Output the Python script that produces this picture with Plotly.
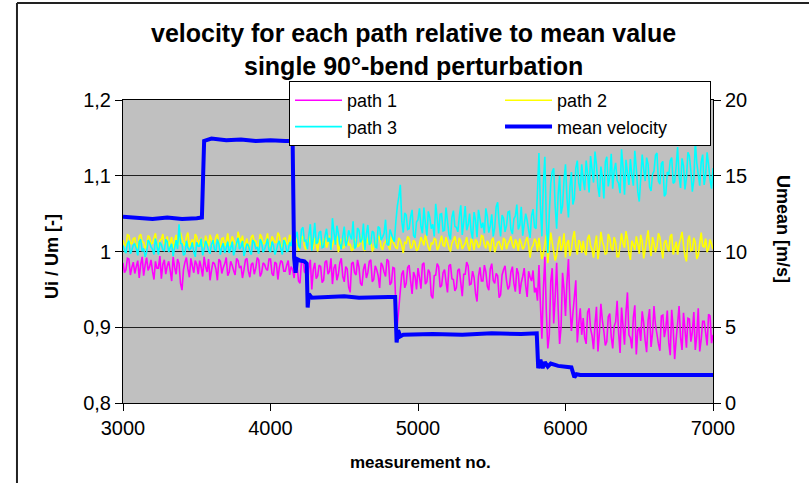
import plotly.graph_objects as go

# ---------------- data ----------------
measurement_no = list(range(3000, 7001, 10))  # 401 samples

path_1 = [
    # 3000 - 4150
    0.985, 0.972, 0.976, 0.991, 0.990, 0.969, 0.979, 0.986, 0.971, 0.980,
    0.988, 0.965, 0.983, 0.993, 0.968, 0.982, 0.992, 0.975, 0.980, 0.989,
    0.974, 0.963, 0.987, 0.978, 0.978, 0.994, 0.964, 0.983, 0.989, 0.970,
    0.981, 0.987, 0.975, 0.961, 0.993, 0.979, 0.970, 0.990, 0.984, 0.958,
    0.949, 0.976, 0.986, 0.992, 0.977, 0.966, 0.991, 0.981, 0.972, 0.988,
    0.983, 0.970, 0.988, 0.979, 0.967, 0.993, 0.980, 0.973, 0.990, 0.962,
    0.975, 0.986, 0.984, 0.977, 0.962, 0.990, 0.987, 0.971, 0.979, 0.984,
    0.992, 0.968, 0.973, 0.987, 0.982, 0.975, 0.969, 0.991, 0.988, 0.978,
    0.981, 0.965, 0.976, 0.989, 0.991, 0.974, 0.966, 0.983, 0.985, 0.970,
    0.978, 0.992, 0.989, 0.967, 0.972, 0.985, 0.983, 0.977, 0.975, 0.990,
    0.990, 0.971, 0.968, 0.986, 0.984, 0.963, 0.979, 0.988, 0.986, 0.974,
    0.974, 0.982, 0.988, 0.969, 0.980, 0.976,
    # 4160 - 4850
    0.965, 0.984, 0.982, 0.961, 0.958, 0.987, 0.990, 0.973, 0.971, 0.956,
    0.978, 0.989, 0.950, 0.976, 0.985, 0.964, 0.968, 0.982, 0.980, 0.959,
    0.962, 0.986, 0.988, 0.970, 0.974, 0.991, 0.957, 0.978, 0.983, 0.962,
    0.970, 0.985, 0.991, 0.967, 0.960, 0.980, 0.977, 0.953, 0.946, 0.984,
    0.986, 0.972, 0.969, 0.989, 0.979, 0.958, 0.955, 0.976, 0.984, 0.965,
    0.972, 0.987, 0.989, 0.960, 0.963, 0.981, 0.976, 0.968, 0.952, 0.985,
    0.981, 0.973, 0.967, 0.990, 0.987, 0.956, 0.959, 0.979, 0.978, 0.930,
    # 4860 - 5810
    0.903, 0.925, 0.948, 0.970, 0.975, 0.952, 0.958, 0.979, 0.982, 0.961,
    0.944, 0.973, 0.967, 0.950, 0.978, 0.966, 0.951, 0.983, 0.985, 0.957,
    0.960, 0.976, 0.972, 0.942, 0.938, 0.968, 0.969, 0.984, 0.980, 0.953,
    0.955, 0.972, 0.976, 0.960, 0.946, 0.981, 0.983, 0.964, 0.963, 0.948,
    0.952, 0.975, 0.977, 0.959, 0.941, 0.970, 0.970, 0.986, 0.981, 0.956,
    0.957, 0.974, 0.966, 0.945, 0.934, 0.967, 0.979, 0.961, 0.961, 0.982,
    0.973, 0.954, 0.949, 0.977, 0.984, 0.962, 0.958, 0.971, 0.968, 0.939,
    0.943, 0.969, 0.976, 0.981, 0.962, 0.950, 0.954, 0.973, 0.980, 0.958,
    0.947, 0.978, 0.971, 0.944, 0.959, 0.967, 0.978, 0.955, 0.940, 0.974,
    0.966, 0.961, 0.975, 0.946, 0.952, 0.935,
    # 5820 - 6110
    0.982, 0.930, 0.885, 0.950, 0.993, 0.920, 0.872, 0.890, 0.960, 0.978,
    0.905, 0.940, 0.985, 0.925, 0.878, 0.900, 0.972, 0.950, 0.915, 0.960,
    0.990, 0.930, 0.895, 0.918, 0.940, 0.962, 0.880, 0.905, 0.925, 0.890,
    # 6120 - 7000
    0.912, 0.886, 0.878, 0.920, 0.925, 0.898, 0.889, 0.871, 0.904, 0.927,
    0.868, 0.893, 0.931, 0.909, 0.895, 0.876, 0.881, 0.914, 0.918, 0.888,
    0.872, 0.901, 0.907, 0.935, 0.893, 0.866, 0.926, 0.902, 0.877, 0.919,
    0.946, 0.890, 0.886, 0.872, 0.913, 0.929, 0.864, 0.896, 0.900, 0.882,
    0.921, 0.906, 0.883, 0.867, 0.909, 0.924, 0.874, 0.892, 0.928, 0.903,
    0.891, 0.878, 0.869, 0.915, 0.916, 0.887, 0.898, 0.922, 0.880, 0.863,
    0.923, 0.899, 0.858, 0.884, 0.905, 0.928, 0.887, 0.870, 0.919, 0.897,
    0.873, 0.912, 0.911, 0.881, 0.894, 0.920, 0.870, 0.889, 0.925, 0.868,
    0.884, 0.908, 0.908, 0.893, 0.876, 0.917, 0.915, 0.879, 0.890,
]

path_2 = [
    # 3000 - 4150
    1.015, 1.009, 1.007, 1.022, 1.021, 1.011, 1.010, 1.017, 1.018, 1.006,
    1.005, 1.020, 1.023, 1.013, 1.012, 1.004, 1.008, 1.021, 1.019, 1.010,
    1.011, 1.018, 1.024, 1.007, 1.006, 1.015, 1.016, 1.023, 1.009, 1.012,
    1.020, 1.005, 1.013, 1.019, 1.004, 1.014, 1.022, 1.008, 1.010, 1.025,
    1.017, 1.011, 1.008, 1.020, 1.025, 1.006, 1.012, 1.016, 1.006, 1.023,
    1.019, 1.009, 1.014, 1.018, 1.009, 1.005, 1.021, 1.013, 1.007, 1.022,
    1.016, 1.008, 1.011, 1.019, 1.023, 1.012, 1.005, 1.017, 1.018, 1.007,
    1.013, 1.024, 1.008, 1.010, 1.020, 1.015, 1.010, 1.006, 1.026, 1.018,
    1.012, 1.021, 1.006, 1.011, 1.017, 1.004, 1.009, 1.019, 1.022, 1.013,
    1.014, 1.008, 1.007, 1.023, 1.019, 1.010, 1.011, 1.016, 1.024, 1.006,
    1.008, 1.020, 1.016, 1.012, 1.012, 1.025, 1.021, 1.007, 1.006, 1.017,
    1.018, 1.010, 1.010, 1.022, 1.015, 1.008,
    # 4160 - 5810
    1.004, 1.012, 1.016, 1.001, 1.009, 1.018, 1.020, 1.007, 1.002, 1.014,
    1.013, 1.021, 1.007, 1.003, 1.018, 1.010, 1.000, 1.016, 1.011, 1.005,
    1.015, 1.019, 1.005, 1.011, 1.021, 1.002, 1.008, 1.015, 1.012, 1.020,
    0.999, 1.009, 1.017, 1.004, 1.006, 1.013, 1.019, 1.008, 1.010, 1.001,
    1.003, 1.017, 1.014, 1.006, 1.008, 1.012, 1.022, 1.003, 1.001, 1.019,
    1.012, 1.009, 1.016, 1.000, 1.005, 1.014, 1.010, 1.021, 1.018, 1.006,
    1.002, 1.011, 1.013, 1.017, 1.007, 1.002, 1.020, 1.013, 1.009, 1.005,
    1.004, 1.018, 1.015, 1.008, 0.998, 1.012, 1.011, 1.020, 1.017, 1.004,
    1.006, 1.015, 1.012, 1.001, 1.003, 1.010, 1.019, 1.014, 1.008, 1.022,
    1.014, 1.005, 1.001, 1.011, 1.010, 1.017, 1.016, 1.002, 1.005, 1.013,
    1.021, 1.008, 1.007, 1.019, 1.012, 1.004, 1.000, 1.011, 1.015, 1.020,
    1.009, 1.003, 1.018, 1.014, 1.003, 1.007, 1.011, 1.019, 1.006, 1.001,
    1.017, 1.012, 1.002, 1.016, 1.013, 1.005, 1.008, 1.021, 1.020, 1.009,
    1.004, 1.014, 1.010, 1.000, 1.015, 1.018, 0.999, 1.006, 1.012, 1.013,
    1.007, 1.002, 1.018, 1.015, 1.003, 1.010, 1.014, 1.020, 1.009, 1.004,
    1.016, 1.011, 1.001, 1.017, 1.011, 1.003, 1.006, 1.014, 1.019, 1.008,
    0.992, 1.005, 1.008, 1.017, 1.013, 1.000,
    # 5820 - 6110
    1.018, 1.002, 0.990, 0.998, 1.010, 1.022, 0.985, 1.005, 1.025, 1.012,
    1.000, 0.988, 0.995, 1.010, 1.020, 1.001, 1.008, 1.024, 0.992, 1.011,
    1.015, 0.994, 1.003, 1.018, 1.027, 1.006, 0.996, 1.015, 1.012, 0.998,
    # 6120 - 7000
    1.014, 1.000, 0.995, 1.017, 1.022, 1.008, 1.003, 0.992, 1.010, 1.021,
    0.990, 1.004, 1.026, 1.013, 1.007, 0.996, 0.998, 1.023, 1.018, 1.005,
    1.001, 1.019, 1.012, 0.993, 0.993, 1.008, 1.024, 1.011, 1.005, 1.027,
    1.016, 0.998, 0.989, 1.014, 1.009, 1.002, 1.020, 1.010, 0.997, 1.022,
    1.013, 0.991, 1.002, 1.016, 1.028, 1.007, 0.994, 1.019, 1.011, 0.999,
    1.006, 1.024, 1.019, 1.003, 0.991, 1.012, 1.015, 1.005, 1.000, 1.020,
    1.023, 0.996, 1.004, 1.013, 0.996, 1.009, 1.017, 1.026, 1.008, 0.994,
    0.987, 1.015, 1.021, 1.001, 1.002, 1.018, 1.012, 0.990, 0.995, 1.011,
    1.025, 1.007, 1.006, 1.017, 0.999, 1.004, 1.016, 1.010, 1.003,
]

path_3 = [
    # 3000 - 4150
    1.008, 1.001, 0.998, 1.011, 1.014, 0.997, 1.002, 1.009, 1.010, 1.004,
    0.995, 1.013, 1.016, 1.000, 1.004, 0.993, 0.999, 1.015, 1.012, 1.006,
    1.003, 0.996, 1.017, 1.008, 0.996, 1.012, 1.009, 1.002, 1.001, 1.016,
    1.013, 0.999, 1.006, 1.010, 0.994, 1.005, 1.015, 1.003, 1.036, 1.011,
    1.010, 0.995, 0.997, 1.014, 1.005, 1.002, 1.004, 1.012, 0.999, 0.993,
    1.012, 1.007, 1.007, 1.017, 0.995, 1.003, 1.014, 1.009, 1.001, 0.997,
    1.009, 1.015, 1.003, 1.000, 1.016, 1.010, 0.996, 1.006, 1.011, 0.998,
    1.005, 1.013, 0.998, 1.004, 1.013, 0.995, 1.002, 1.011, 1.018, 1.003,
    1.006, 1.014, 0.994, 1.001, 1.010, 1.008, 1.000, 0.996, 1.015, 1.012,
    1.004, 1.005, 0.997, 1.016, 1.012, 0.999, 1.003, 1.009, 1.017, 1.002,
    0.999, 1.013, 1.008, 0.996, 1.002, 1.010, 1.014, 1.004, 0.996, 1.015,
    1.011, 1.000, 1.001, 1.012, 1.007, 1.020,
    # 4160 - 4850
    1.010, 1.019, 1.026, 1.008, 1.004, 1.029, 1.032, 1.014, 1.015, 1.003,
    1.022, 1.036, 1.001, 1.017, 1.038, 1.011, 1.012, 1.025, 1.027, 1.005,
    1.006, 1.021, 1.030, 1.013, 1.018, 1.002, 1.044, 1.026, 1.009, 1.034,
    1.024, 1.010, 1.003, 1.020, 1.033, 1.007, 1.014, 1.028, 1.021, 1.016,
    1.040, 1.004, 1.007, 1.031, 1.028, 1.012, 1.016, 1.037, 1.002, 1.023,
    1.035, 1.009, 1.011, 1.027, 1.025, 1.006, 1.005, 1.033, 1.031, 1.015,
    1.019, 1.024, 1.042, 1.010, 1.008, 1.029, 1.023, 1.017, 1.013, 1.040,
    # 4860 - 5810
    1.060, 1.072, 1.088, 1.040, 1.025, 1.051, 1.048, 1.029, 1.030, 1.046,
    1.055, 1.021, 1.018, 1.039, 1.042, 1.057, 1.033, 1.024, 1.058, 1.037,
    1.021, 1.053, 1.045, 1.030, 1.036, 1.020, 1.063, 1.044, 1.024, 1.049,
    1.050, 1.027, 1.028, 1.058, 1.040, 1.022, 1.016, 1.045, 1.054, 1.033,
    1.032, 1.026, 1.046, 1.061, 1.022, 1.039, 1.060, 1.028, 1.035, 1.050,
    1.027, 1.017, 1.052, 1.041, 1.019, 1.055, 1.043, 1.031, 1.038, 1.024,
    1.057, 1.046, 1.025, 1.034, 1.049, 1.020, 1.031, 1.059, 1.065, 1.037,
    1.020, 1.048, 1.044, 1.026, 1.034, 1.052, 1.053, 1.029, 1.023, 1.043,
    1.047, 1.062, 1.029, 1.035, 1.059, 1.021, 1.036, 1.050, 1.041, 1.028,
    1.018, 1.047, 1.056, 1.032, 1.030, 1.080,
    # 5820 - 6110
    1.130, 1.060, 1.020, 1.090, 1.125, 1.040, 0.998, 1.050, 1.090, 1.105,
    1.110, 1.060, 1.030, 1.075, 1.100, 1.050, 1.060, 1.095, 1.115, 1.070,
    1.045, 1.085, 1.105, 1.062, 1.070, 1.110, 1.120, 1.090, 1.080, 1.115,
    # 6120 - 7000
    1.095, 1.081, 1.120, 1.103, 1.078, 1.126, 1.108, 1.091, 1.132, 1.114,
    1.085, 1.072, 1.112, 1.098, 1.070, 1.118, 1.125, 1.086, 1.098, 1.129,
    1.083, 1.107, 1.117, 1.094, 1.090, 1.077, 1.135, 1.111, 1.075, 1.121,
    1.104, 1.088, 1.122, 1.100, 1.087, 1.133, 1.110, 1.079, 1.066, 1.096,
    1.128, 1.109, 1.093, 1.124, 1.115, 1.085, 1.080, 1.102, 1.106, 1.127,
    1.130, 1.093, 1.089, 1.116, 1.119, 1.073, 1.076, 1.105, 1.101, 1.120,
    1.124, 1.090, 1.092, 1.112, 1.138, 1.099, 1.084, 1.123, 1.113, 1.082,
    1.097, 1.131, 1.126, 1.106, 1.079, 1.094, 1.145, 1.117, 1.102, 1.087,
    1.118, 1.128, 1.088, 1.101, 1.131, 1.114, 1.095, 1.083, 1.110,
]

mean_no = [
    3000, 3100, 3200, 3300, 3400, 3500, 3535, 3550, 3600, 3700, 3800, 3900,
    4000, 4100, 4150, 4160, 4170, 4180, 4200, 4230, 4245, 4252, 4260, 4280,
    4400, 4500, 4600, 4700, 4800, 4845, 4855, 4865, 4880, 4900, 5100, 5300,
    5500, 5700, 5805, 5815, 5830, 5845, 5860, 5880, 5900, 5950, 6000, 6040,
    6060, 6075, 6100, 6500, 7000,
]
mean_velocity = [
    12.3, 12.2, 12.15, 12.25, 12.15, 12.2, 12.25, 17.3, 17.45, 17.35, 17.4, 17.3,
    17.35, 17.3, 17.3, 9.6, 8.6, 9.5, 9.4, 9.35, 9.2, 6.3, 7.2, 6.95,
    7.0, 7.05, 6.95, 7.0, 7.0, 7.0, 4.0, 4.8, 4.4, 4.5, 4.55, 4.5,
    4.6, 4.55, 4.6, 2.3, 2.85, 2.3, 2.7, 2.4, 2.6, 2.45, 2.4, 2.35,
    1.7, 1.9, 1.85, 1.85, 1.85,
]

left_ticks = [0.8, 0.9, 1.0, 1.1, 1.2]
left_labels = ["0,8", "0,9", "1", "1,1", "1,2"]
right_ticks = [0, 5, 10, 15, 20]
x_ticks = [3000, 4000, 5000, 6000, 7000]

# ---------------- figure ----------------
FONT = "Liberation Sans, Arial, sans-serif"

fig = go.Figure()
fig.add_trace(go.Scatter(x=measurement_no, y=path_1, name="path 1", mode="lines",
                         line=dict(color="#FF00FF", width=1.6, simplify=False)))
fig.add_trace(go.Scatter(x=measurement_no, y=path_2, name="path 2", mode="lines",
                         line=dict(color="#FFFF00", width=1.6, simplify=False)))
fig.add_trace(go.Scatter(x=measurement_no, y=path_3, name="path 3", mode="lines",
                         line=dict(color="#00FFFF", width=1.6, simplify=False)))
fig.add_trace(go.Scatter(x=mean_no, y=mean_velocity, name="mean velocity", mode="lines",
                         yaxis="y2", line=dict(color="#0000FF", width=4)))

fig.update_layout(
    width=809, height=483,
    margin=dict(l=123, r=96, t=100, b=80),
    paper_bgcolor="white", plot_bgcolor="#C0C0C0",
    font=dict(family=FONT, color="black", size=20),
    showlegend=True,
    legend=dict(orientation="h", x=0.2814, y=1.0627, xanchor="left", yanchor="top",
                bgcolor="white", bordercolor="black", borderwidth=1,
                font=dict(family=FONT, size=18, color="black"),
                entrywidth=148, entrywidthmode="pixels", itemwidth=47,
                tracegroupgap=0),
    xaxis=dict(range=[3000, 7000], tickvals=x_ticks, ticks="outside", ticklen=7,
               tickcolor="black", showline=True, linecolor="black", linewidth=1,
               mirror=True, showgrid=False, zeroline=False, tickfont=dict(size=20)),
    yaxis=dict(range=[0.8, 1.2], tickvals=left_ticks, ticktext=left_labels,
               ticks="outside", ticklen=7, tickcolor="black", showline=True,
               linecolor="black", linewidth=1, showgrid=True, gridcolor="#202020",
               gridwidth=1, zeroline=False, tickfont=dict(size=20)),
    yaxis2=dict(range=[0, 20], tickvals=right_ticks, overlaying="y", side="right",
                ticks="outside", ticklen=7, tickcolor="black", showline=True,
                linecolor="black", linewidth=1, showgrid=False, zeroline=False,
                tickfont=dict(size=20)),
    annotations=[
        dict(text="<b>velocity for each path relative to mean value</b>", xref="paper",
             yref="paper", x=0.4932, y=1.2211, xanchor="center", yanchor="middle",
             showarrow=False, font=dict(size=25)),
        dict(text="<b>single 90°-bend perturbation</b>", xref="paper", yref="paper",
             x=0.4932, y=1.1122, xanchor="center", yanchor="middle", showarrow=False,
             font=dict(size=25)),
        dict(text="<b>Ui / Um [-]</b>", xref="paper", yref="paper", x=-0.1203,
             y=0.4818, textangle=-90, xanchor="center", yanchor="middle",
             showarrow=False, font=dict(size=18)),
        dict(text="<b>Umean [m/s]</b>", xref="paper", yref="paper", x=1.1186,
             y=0.5743, textangle=90, xanchor="center", yanchor="middle",
             showarrow=False, font=dict(size=18)),
        dict(text="<b>measurement no.</b>", xref="paper", yref="paper", x=0.505,
             y=-0.198, xanchor="center", yanchor="middle", showarrow=False,
             font=dict(size=17)),
    ],
    shapes=[
        dict(type="line", xref="paper", yref="paper", x0=-0.1797, x1=1.1627,
             y0=1.3201, y1=1.3201, line=dict(color="#222222", width=2)),
        dict(type="line", xref="paper", yref="paper", x0=-0.1797, x1=-0.1797,
             y0=1.3201, y1=-0.264, line=dict(color="#222222", width=2)),
    ],
)

fig.write_html("out.html", config={"displayModeBar": False},
               post_script="document.body.style.margin='0px';")
